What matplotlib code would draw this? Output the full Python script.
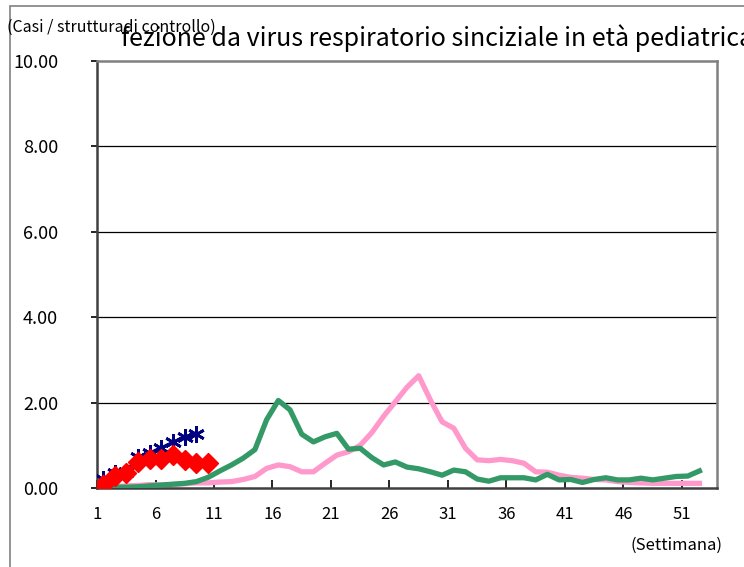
import matplotlib.pyplot as plt
from matplotlib.patches import Rectangle

plt.rcParams['font.family'] = ['Noto Sans CJK JP', 'DejaVu Sans']

weeks = list(range(1, 53))
green = [0.02, 0.02, 0.02, 0.03, 0.05, 0.07, 0.09, 0.11, 0.15, 0.25,
         0.40, 0.54, 0.70, 0.90, 1.60, 2.05, 1.83, 1.26, 1.08, 1.20,
         1.28, 0.91, 0.93, 0.71, 0.54, 0.61, 0.49, 0.45, 0.38, 0.30,
         0.42, 0.38, 0.21, 0.16, 0.24, 0.24, 0.24, 0.19, 0.32, 0.19,
         0.20, 0.13, 0.20, 0.24, 0.19, 0.19, 0.23, 0.19, 0.23, 0.27,
         0.28, 0.40]
pink = [0.02, 0.03, 0.05, 0.06, 0.08, 0.07, 0.08, 0.10, 0.12, 0.12,
        0.14, 0.15, 0.20, 0.27, 0.46, 0.54, 0.50, 0.38, 0.38, 0.58,
        0.77, 0.85, 1.00, 1.30, 1.68, 2.02, 2.36, 2.63, 2.06, 1.55,
        1.40, 0.93, 0.66, 0.64, 0.67, 0.64, 0.58, 0.38, 0.37, 0.30,
        0.25, 0.23, 0.20, 0.19, 0.15, 0.13, 0.12, 0.11, 0.11, 0.11,
        0.11, 0.11]
red_weeks = list(range(1, 11))
red = [0.07, 0.27, 0.34, 0.62, 0.67, 0.67, 0.78, 0.66, 0.58, 0.58]
blue_weeks = list(range(1, 10))
blue = [0.22, 0.34, 0.38, 0.73, 0.82, 0.94, 1.07, 1.20, 1.27]

tick_weeks = [1, 6, 11, 16, 21, 26, 31, 36, 41, 46, 51]
y_ticks = [0, 2, 4, 6, 8, 10]

fig = plt.figure(figsize=(7.44, 5.67), dpi=100)
ax = fig.add_axes([0.1304, 0.1393, 0.8333, 0.7531])

# outer chart border (runs off the right and bottom edges)
fig.patches.append(Rectangle((0.013, -0.2), 1.2, 1.19, transform=fig.transFigure,
                             fill=False, edgecolor='#808080', linewidth=1.2))

for y in y_ticks[1:-1]:
    ax.axhline(y, color='black', linewidth=0.9, zorder=1)

ax.plot(weeks, green, color='#339966', linewidth=3.8, zorder=3)
ax.plot(weeks, pink, color='#ff99cc', linewidth=3.8, zorder=2)
ax.plot(blue_weeks, blue, color='#000080', linewidth=2.4, marker=(6, 2, 0),
        markersize=12, markeredgewidth=2, zorder=4)
ax.plot(red_weeks, red, color='#ff0000', linewidth=3, marker='D',
        markersize=10.5, zorder=5)

ax.set_xlim(0.5, 53.5)
ax.set_ylim(0, 10)
ax.set_xticks([w - 0.5 for w in tick_weeks])
ax.set_xticklabels([str(w) for w in tick_weeks])
ax.set_yticks(y_ticks)
ax.set_yticklabels(['%.2f' % v for v in y_ticks])
ax.tick_params(axis='x', direction='in', length=6, width=1.2, pad=13, labelsize=12)
ax.tick_params(axis='y', direction='out', length=4, width=1.2, pad=24, labelsize=13)
for s in ax.spines.values():
    s.set_color('#808080')
    s.set_linewidth(1.8)
ax.spines['bottom'].set_color('#404040')
ax.spines['left'].set_color('#404040')

fig.text(0.163, 0.918, 'fezione da virus respiratorio sinciziale in età pediatrica',
         fontsize=18, ha='left', va='baseline')
fig.text(0.009, 0.951, '(Casi / strutturadi controllo)', fontsize=11.5,
         ha='left', va='center')
fig.text(0.971, 0.038, '(Settimana)', fontsize=12, ha='right', va='center')

fig.savefig('out.png', dpi=100)
